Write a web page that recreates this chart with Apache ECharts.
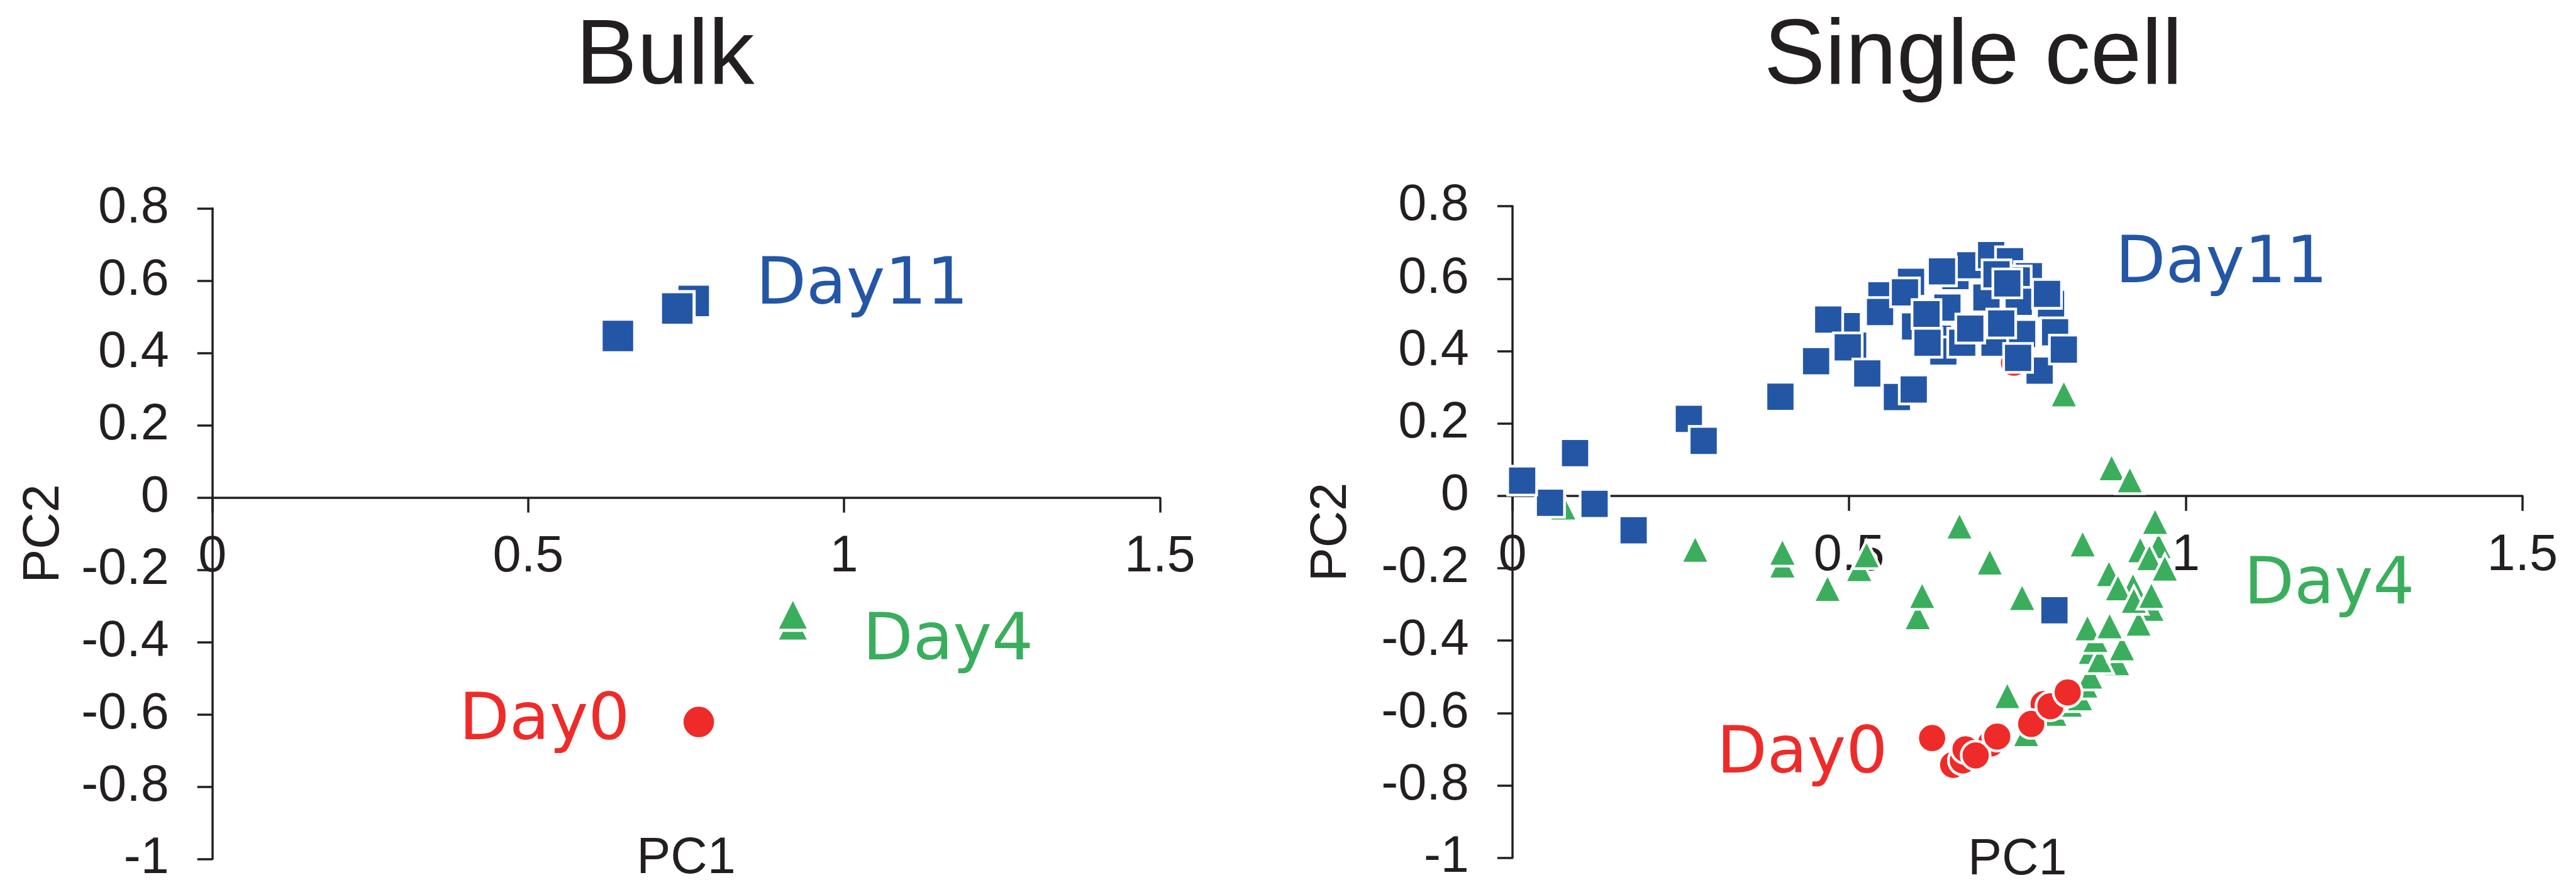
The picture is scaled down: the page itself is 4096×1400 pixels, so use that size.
<!DOCTYPE html>
<html><head><meta charset="utf-8">
<script src="https://cdn.jsdelivr.net/npm/echarts@6/dist/echarts.min.js"></script>
<style>html,body{margin:0;padding:0;background:#fff}#c{width:4096px;height:1400px}</style>
</head><body><div id="c"></div>
<script>
// ---- data ----
const xTicks = [0, 0.5, 1, 1.5];
const yTicks = [-1, -0.8, -0.6, -0.4, -0.2, 0, 0.2, 0.4, 0.6, 0.8];
const chartTitles = ['Bulk', 'Single cell'];
const axisNames = ['PC1', 'PC2'];

const bulkDay4 = [[0.919, -0.352], [0.919, -0.322]];
const bulkDay0 = [[0.770, -0.621]];
const bulkDay11 = [[0.762, 0.544], [0.736, 0.523], [0.642, 0.447]];

const scDay4 = [
  [0.0754, -0.03], [0.2715, -0.147], [0.401, -0.19], [0.401, -0.155], [0.468, -0.255],
  [0.515, -0.2], [0.526, -0.162], [0.602, -0.333], [0.6085, -0.2745], [0.664, -0.0826],
  [0.709, -0.182], [0.757, -0.28], [0.847, -0.132], [0.735, -0.551], [0.89, 0.0786],
  [0.917, 0.045], [0.819, 0.2825],
  [0.763, -0.656], [0.805, -0.6], [0.828, -0.575], [0.843, -0.557], [0.851, -0.522],
  [0.858, -0.497], [0.859, -0.429], [0.898, -0.46], [0.872, -0.452], [0.866, -0.396],
  [0.9054, -0.419], [0.854, -0.364], [0.887, -0.358], [0.949, -0.31], [0.930, -0.351],
  [0.9217, -0.248], [0.886, -0.214], [0.8995, -0.253], [0.923, -0.288], [0.949, -0.274],
  [0.9325, -0.148], [0.9597, -0.137], [0.946, -0.170], [0.969, -0.199], [0.9545, -0.070]
];
const scDay0 = [
  [0.745, 0.368], [0.6546, -0.743], [0.669, -0.731], [0.673, -0.70], [0.72, -0.67],
  [0.7106, -0.684], [0.6233, -0.669], [0.688, -0.717], [0.72, -0.665], [0.789, -0.575],
  [0.7705, -0.630], [0.799, -0.581], [0.8247, -0.543]
];
const scDay11 = [
  [0.0558, -0.019], [0.0144, 0.042], [0.093, 0.118], [0.122, -0.022], [0.180, -0.095],
  [0.262, 0.2125], [0.284, 0.152], [0.398, 0.274], [0.805, -0.316],
  [0.506, 0.415], [0.548, 0.554], [0.592, 0.591], [0.598, 0.468], [0.632, 0.434],
  [0.640, 0.399], [0.646, 0.52], [0.658, 0.607], [0.680, 0.637], [0.668, 0.423],
  [0.704, 0.548], [0.711, 0.665], [0.739, 0.648], [0.716, 0.423], [0.767, 0.607],
  [0.749, 0.595], [0.752, 0.536], [0.757, 0.447], [0.800, 0.53], [0.806, 0.452],
  [0.4965, 0.469], [0.571, 0.273], [0.783, 0.346],
  [0.451, 0.372], [0.469, 0.487], [0.498, 0.41], [0.527, 0.338], [0.546, 0.508],
  [0.596, 0.294], [0.583, 0.562], [0.615, 0.502], [0.6165, 0.423], [0.638, 0.620],
  [0.680, 0.462], [0.719, 0.612], [0.735, 0.587], [0.726, 0.476], [0.751, 0.381],
  [0.794, 0.558], [0.819, 0.404]
];

const bulkLabels = [['Day11', 0.860, 0.584], ['Day4', 1.029, -0.4015], ['Day0', 0.390, -0.622]];
const scLabels = [['Day11', 0.895, 0.637], ['Day4', 1.086, -0.25], ['Day0', 0.303, -0.717]];

// ---- styling ----
const TXT = '#231F20';
const BLUE = '#2456A6', GREEN = '#3AAE5D', RED = '#EE2B29';
const FONT = '"Liberation Sans", Arial, sans-serif';
const labelColors = { Day11: BLUE, Day4: GREEN, Day0: RED };
const fmt = v => String(Math.round(v * 10) / 10);

const grids = [
  { left: 337.7, top: 331.6, width: 1506.6, height: 1034.9, containLabel: false, outerBoundsMode: 'none' },
  { left: 2404.9, top: 328.1, width: 1605.8, height: 1036.7, containLabel: false, outerBoundsMode: 'none' }
];
// distance from grid bottom up to the y = 0 line (labels/name are laid out from the grid edge)
function zeroOffset(g) {
  const yMin = yTicks[0], yMax = yTicks[yTicks.length - 1];
  return g.height * (0 - yMin) / (yMax - yMin);
}

function xAxisCfg(i, margin, nameGap) {
  const off = zeroOffset(grids[i]);
  return {
    type: 'value', gridIndex: i,
    min: xTicks[0], max: xTicks[xTicks.length - 1], interval: xTicks[1] - xTicks[0],
    axisLine: { show: true, onZero: true, lineStyle: { color: TXT, width: 3.5 } },
    axisTick: { show: true, length: 24, lineStyle: { color: TXT, width: 3.5 } },
    axisLabel: { margin: margin - off, fontFamily: FONT, fontSize: 81, color: TXT, formatter: fmt },
    splitLine: { show: false },
    name: axisNames[0], nameLocation: 'middle', nameGap: nameGap - off,
    nameTextStyle: { fontFamily: FONT, fontSize: 81, color: TXT }
  };
}
function yAxisCfg(i, nameGap) {
  return {
    type: 'value', gridIndex: i,
    min: yTicks[0], max: yTicks[yTicks.length - 1], interval: 0.2,
    axisLine: { show: true, onZero: true, lineStyle: { color: TXT, width: 3.5 } },
    axisTick: { show: true, length: 24, lineStyle: { color: TXT, width: 3.5 } },
    axisLabel: { margin: 69, fontFamily: FONT, fontSize: 81, color: TXT, formatter: fmt },
    splitLine: { show: false },
    name: axisNames[1], nameLocation: 'middle', nameRotate: 90, nameGap: nameGap,
    nameTextStyle: { fontFamily: FONT, fontSize: 81, color: TXT }
  };
}
function pts(i, data, symbol, size, color, bw) {
  return {
    type: 'scatter', xAxisIndex: i, yAxisIndex: i, data: data,
    symbol: symbol, symbolSize: size, clip: false, silent: true,
    itemStyle: { color: color, borderColor: '#ffffff', borderWidth: bw, opacity: 1 }
  };
}
function labels(i, arr) {
  return {
    type: 'scatter', xAxisIndex: i, yAxisIndex: i, symbol: 'circle', symbolSize: 1,
    clip: false, silent: true, z: 5,
    itemStyle: { color: 'rgba(255,255,255,0)', opacity: 1 },
    data: arr.map(a => ({ name: a[0], value: [a[1], a[2]],
      label: { color: labelColors[a[0]] } })),
    label: { show: true, position: 'right', distance: 0, formatter: '{b}', opacity: 1,
      fontFamily: '"DejaVu Sans", Verdana, sans-serif', fontSize: 104 }
  };
}

const chart = echarts.init(document.getElementById('c'));
chart.setOption({
  animation: false,
  backgroundColor: '#ffffff',
  title: [
    { text: chartTitles[0], left: 1057.6, top: 20, textAlign: 'center', padding: 0,
      textStyle: { fontFamily: FONT, fontSize: 146, fontWeight: 'normal', color: TXT } },
    { text: chartTitles[1], left: 3137.4, top: 20, textAlign: 'center', padding: 0,
      textStyle: { fontFamily: FONT, fontSize: 146, fontWeight: 'normal', color: TXT } }
  ],
  grid: grids,
  xAxis: [xAxisCfg(0, 55, 535), xAxisCfg(1, 55, 539)],
  yAxis: [yAxisCfg(0, 227), yAxisCfg(1, 247)],
  series: [
    pts(0, bulkDay4, 'triangle', 52, GREEN, 5),
    pts(0, bulkDay0, 'circle', 53.5, RED, 5),
    pts(0, bulkDay11, 'rect', 53.5, BLUE, 5),
    labels(0, bulkLabels),
    pts(1, scDay4, 'triangle', 45, GREEN, 4.3),
    pts(1, scDay0, 'circle', 46, RED, 4.3),
    pts(1, scDay11, 'rect', 46, BLUE, 4.3),
    labels(1, scLabels)
  ]
});
</script></body></html>
